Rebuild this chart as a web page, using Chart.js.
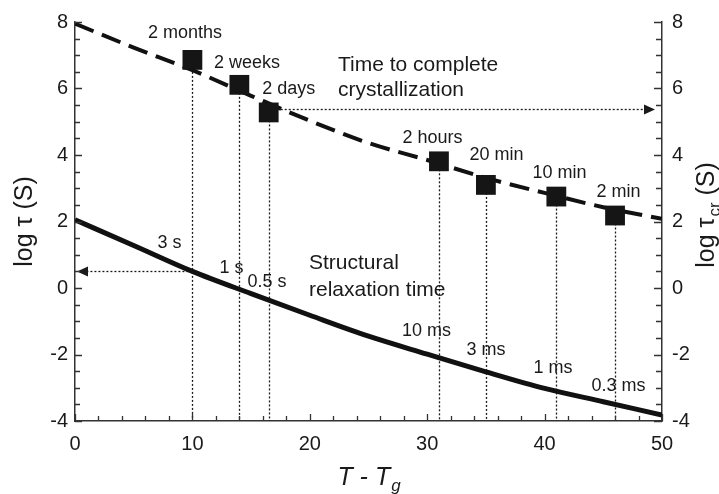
<!DOCTYPE html>
<html>
<head>
<meta charset="utf-8">
<script src="https://cdn.jsdelivr.net/npm/chart.js@4.4.0/dist/chart.umd.min.js"></script>
<style>
  body { margin: 0; background: #fff; }
  #chart { display: block; }
</style>
</head>
<body>
<canvas id="chart" width="719" height="494"></canvas>
<script>
// T - Tg samples for the two curves
var tempSteps = [0, 5, 10, 15, 20, 25, 30, 35, 40, 45, 50];
// log of time to complete crystallization (dashed curve)
var logCryst = [7.95, 7.23, 6.55, 5.78, 5.03, 4.36, 3.85, 3.31, 2.86, 2.43, 2.08];
// log of structural relaxation time (solid curve)
var logRelax = [2.05, 1.28, 0.50, -0.17, -0.82, -1.45, -1.99, -2.52, -3.02, -3.42, -3.82];

// marked temperatures with their crystallization times
var markTemps = [10, 14, 16.5, 31, 35, 41, 46];
var markCryst = [6.86, 6.11, 5.28, 3.81, 3.10, 2.75, 2.18];
var crystNames = ['2 months', '2 weeks', '2 days', '2 hours', '20 min', '10 min', '2 min'];
var relaxNames = ['3 s', '1 s', '0.5 s', '10 ms', '3 ms', '1 ms', '0.3 ms'];

var xTicks = [0, 10, 20, 30, 40, 50];
var yTicks = [-4, -2, 0, 2, 4, 6, 8];

// where the time labels sit, in axis units
var crystLabelPos = [[9.37, 7.67], [14.65, 6.77], [18.2, 5.99], [30.45, 4.52], [35.9, 4.01], [41.27, 3.47], [46.3, 2.90]];
var relaxLabelPos = [[8.05, 1.34], [13.33, 0.59], [16.35, 0.17], [29.94, -1.30], [35.0, -1.87], [40.72, -2.41], [46.3, -2.95]];
var notes = [
    { text: 'Time to complete', x: 22.4, y: 6.71 },
    { text: 'crystallization', x: 22.4, y: 5.96 },
    { text: 'Structural', x: 19.93, y: 0.74 },
    { text: 'relaxation time', x: 19.93, y: -0.07 }
];
var crystArrowY = 5.38;

var FONT = '"Liberation Sans", Arial, sans-serif';
var INK = '#1a1a1a';

function toPoints(xs, ys) {
    return xs.map(function(x, i) { return { x: x, y: ys[i] }; });
}

function arrowHead(ctx, tipX, tipY, dir) {
    ctx.beginPath();
    ctx.moveTo(tipX, tipY);
    ctx.lineTo(tipX - dir * 11, tipY - 5);
    ctx.lineTo(tipX - dir * 11, tipY + 5);
    ctx.closePath();
    ctx.fill();
}

var decorations = {
    id: 'decorations',
    beforeDatasetsDraw: function(chart) {
        var ctx = chart.ctx, xs = chart.scales.x, ys = chart.scales.y, area = chart.chartArea;
        ctx.save();
        ctx.strokeStyle = INK;
        ctx.fillStyle = INK;
        ctx.lineWidth = 1.3;
        ctx.setLineDash([2, 2]);

        // drop lines from each marked point to the T axis
        markTemps.forEach(function(t, i) {
            var px = Math.round(xs.getPixelForValue(t)) + 0.5;
            ctx.beginPath();
            ctx.moveTo(px, ys.getPixelForValue(markCryst[i]));
            ctx.lineTo(px, area.bottom);
            ctx.stroke();
        });

        var ay = Math.round(ys.getPixelForValue(crystArrowY)) + 0.5;
        var tipR = xs.getPixelForValue(50) - 7;
        ctx.beginPath();
        ctx.moveTo(xs.getPixelForValue(markTemps[2]), ay);
        ctx.lineTo(tipR - 10, ay);
        ctx.stroke();

        var ly = Math.round(ys.getPixelForValue(logRelax[2])) + 0.5;
        var tipL = xs.getPixelForValue(0) + 2;
        ctx.beginPath();
        ctx.moveTo(xs.getPixelForValue(markTemps[0]), ly);
        ctx.lineTo(tipL + 10, ly);
        ctx.stroke();

        ctx.setLineDash([]);
        arrowHead(ctx, tipR, ay, 1);
        arrowHead(ctx, tipL, ly, -1);
        ctx.restore();
    },
    afterDraw: function(chart) {
        var ctx = chart.ctx, xs = chart.scales.x, ys = chart.scales.y, area = chart.chartArea;
        var v, p;
        ctx.save();

        // inward tick marks, minor and major
        ctx.strokeStyle = '#333';
        ctx.lineWidth = 1.3;
        ctx.beginPath();
        for (v = -4; v <= 8; v += 0.5) {
            p = Math.round(ys.getPixelForValue(v)) + 0.5;
            var len = (v % 2 === 0) ? 7 : 5;
            ctx.moveTo(area.left, p); ctx.lineTo(area.left + len, p);
            ctx.moveTo(area.right, p); ctx.lineTo(area.right - len - 1, p);
        }
        for (v = 0; v <= 50; v += 2) {
            p = Math.round(xs.getPixelForValue(v)) + 0.5;
            ctx.moveTo(p, area.bottom); ctx.lineTo(p, area.bottom - ((v % 10 === 0) ? 7 : 5));
        }
        ctx.stroke();

        // time labels along the curves
        ctx.fillStyle = INK;
        ctx.textAlign = 'center';
        ctx.textBaseline = 'middle';
        ctx.font = '18px ' + FONT;
        crystNames.forEach(function(name, i) {
            ctx.fillText(name, xs.getPixelForValue(crystLabelPos[i][0]), ys.getPixelForValue(crystLabelPos[i][1]));
        });
        relaxNames.forEach(function(name, i) {
            ctx.fillText(name, xs.getPixelForValue(relaxLabelPos[i][0]), ys.getPixelForValue(relaxLabelPos[i][1]));
        });

        ctx.textAlign = 'left';
        ctx.font = '21px ' + FONT;
        notes.forEach(function(n) {
            ctx.fillText(n.text, xs.getPixelForValue(n.x), ys.getPixelForValue(n.y));
        });

        // axis titles
        ctx.textBaseline = 'alphabetic';
        var midY = (area.top + area.bottom) / 2;

        ctx.save();
        ctx.translate(32, midY);
        ctx.rotate(-Math.PI / 2);
        ctx.textAlign = 'center';
        ctx.font = '25px ' + FONT;
        ctx.fillText('log \u03c4 (S)', 0, 0);
        ctx.restore();

        ctx.save();
        ctx.translate(714, midY - 6);
        ctx.rotate(-Math.PI / 2);
        ctx.textAlign = 'left';
        ctx.font = '25px ' + FONT;
        var a = 'log \u03c4', b = 'cr', c = ' (S)';
        var wa = ctx.measureText(a).width, wc = ctx.measureText(c).width;
        ctx.font = '17px ' + FONT;
        var wb = ctx.measureText(b).width;
        var x0 = -(wa + wb + wc) / 2;
        ctx.font = '25px ' + FONT;
        ctx.fillText(a, x0, 0);
        ctx.font = '17px ' + FONT;
        ctx.fillText(b, x0 + wa + 1, 6);
        ctx.font = '25px ' + FONT;
        ctx.fillText(c, x0 + wa + wb + 1, 0);
        ctx.restore();

        ctx.font = 'italic 25px ' + FONT;
        var t1 = 'T - T';
        var w1 = ctx.measureText(t1).width;
        ctx.font = 'italic 17px ' + FONT;
        var w2 = ctx.measureText('g').width;
        var sx = (area.left + area.right) / 2 - (w1 + w2) / 2;
        ctx.font = 'italic 25px ' + FONT;
        ctx.fillText(t1, sx, 485);
        ctx.font = 'italic 17px ' + FONT;
        ctx.fillText('g', sx + w1 + 1, 491);

        ctx.restore();
    }
};

function fixedTicks(values) {
    return function(scale) {
        scale.ticks = values.map(function(v) { return { value: v }; });
    };
}

var tickFont = { family: FONT, size: 20 };

var myChart = new Chart(document.getElementById('chart').getContext('2d'), {
    type: 'line',
    data: {
        datasets: [{
            label: 'marked points',
            data: toPoints(markTemps, markCryst),
            showLine: false,
            pointStyle: 'rect',
            pointRadius: 14,
            pointBackgroundColor: '#151515',
            pointBorderWidth: 0
        }, {
            label: 'crystallization',
            data: toPoints(tempSteps, logCryst),
            borderColor: '#111',
            borderWidth: 4,
            borderDash: [20, 9],
            cubicInterpolationMode: 'monotone',
            pointRadius: 0
        }, {
            label: 'relaxation',
            data: toPoints(tempSteps, logRelax),
            borderColor: '#111',
            borderWidth: 5,
            cubicInterpolationMode: 'monotone',
            pointRadius: 0
        }]
    },
    options: {
        responsive: false,
        animation: false,
        layout: { padding: { top: 21 } },
        plugins: { legend: { display: false }, tooltip: { enabled: false } },
        scales: {
            x: {
                type: 'linear',
                min: 0, max: 50,
                afterBuildTicks: fixedTicks(xTicks),
                afterFit: function(scale) { scale.height = 73; },
                grid: { display: false, drawTicks: false },
                border: { color: '#333', width: 1.5 },
                ticks: { font: tickFont, color: INK, padding: 11, maxRotation: 0 }
            },
            y: {
                position: 'left',
                min: -4, max: 8,
                afterBuildTicks: fixedTicks(yTicks),
                afterFit: function(scale) { scale.width = 75; },
                grid: { display: false, drawTicks: false },
                border: { color: '#333', width: 1.5 },
                ticks: { font: tickFont, color: INK, padding: 7 }
            },
            y2: {
                position: 'right',
                min: -4, max: 8,
                afterBuildTicks: fixedTicks(yTicks),
                afterFit: function(scale) { scale.width = 57; },
                grid: { display: false, drawTicks: false },
                border: { color: '#333', width: 1.5 },
                ticks: { font: tickFont, color: INK, padding: 10 }
            }
        }
    },
    plugins: [decorations]
});
</script>
</body>
</html>
